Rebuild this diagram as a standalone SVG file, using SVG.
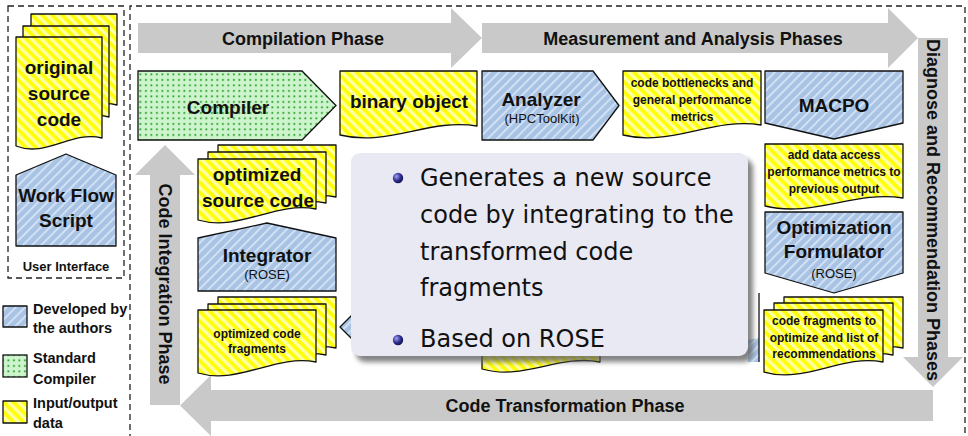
<svg xmlns="http://www.w3.org/2000/svg" width="968" height="436" viewBox="0 0 968 436">
<style>
.t{font-family:"Liberation Sans",Arial,sans-serif;font-weight:bold;fill:#111;text-anchor:middle}
.big{font-size:19px}
.sm{font-size:12px}
.sub{font-size:13px;font-weight:normal}
.ph{font-size:18px}
.leg{font-size:14.5px;text-anchor:start}
.ui{font-size:13px}
.pop{font-family:"DejaVu Sans",sans-serif;font-size:24px;fill:#111}
.y{fill:url(#pY);stroke:#111;stroke-width:1.3;stroke-linejoin:round}
.b{fill:url(#pB);stroke:#111;stroke-width:1.3;stroke-linejoin:round}
.g{fill:url(#pG);stroke:#111;stroke-width:1.3}
.arr{fill:#c9c9c9}
.dash{fill:none;stroke:#222;stroke-width:1.3;stroke-dasharray:6 4}
</style>
<defs>
<pattern id="pY" width="7" height="7" patternUnits="userSpaceOnUse" patternTransform="rotate(-45)">
<rect width="7" height="7" fill="#ffff00"/><rect width="3.4" height="7" fill="#ffffa6"/>
</pattern>
<pattern id="pB" width="6.5" height="6.5" patternUnits="userSpaceOnUse" patternTransform="rotate(45)">
<rect width="6.5" height="6.5" fill="#a8c3e4"/><rect width="2" height="6.5" fill="#d2e1f3"/>
</pattern>
<pattern id="pG" width="5.5" height="5.5" patternUnits="userSpaceOnUse">
<rect width="5.5" height="5.5" fill="#cdf4cd"/><rect x="2" y="2" width="1.8" height="1.8" fill="#25a125"/>
</pattern>
<radialGradient id="ball" cx="0.35" cy="0.35" r="0.7">
<stop offset="0" stop-color="#a0a0ee"/><stop offset="0.6" stop-color="#2c2c90"/><stop offset="1" stop-color="#12124e"/>
</radialGradient>
<filter id="blur" x="-10%" y="-10%" width="120%" height="120%"><feGaussianBlur stdDeviation="2.5"/></filter>
</defs>
<rect width="968" height="436" fill="#fff"/>

<g id="frames">
<rect class="dash" x="8" y="6" width="116" height="272"/>
<path class="dash" d="M130,440 V6 H965 V440"/>
</g>

<g id="connectors">
<polygon class="arr" points="138,23 451,23 451,8 482,38 451,68 451,53 138,53"/>
<polygon class="arr" points="482,23 888,23 888,8 918,38 888,68 888,53 482,53"/>
<polygon class="arr" points="918,38 948,38 948,357 963,357 933,387 903,357 918,357"/>
<polygon class="arr" points="933,390 933,421 211,421 211,436 180,405.5 211,375 211,390"/>
<polygon class="arr" points="150,405 180,405 180,175 195,175 165,145 135,175 150,175"/>
<text class="t ph" x="303" y="44.5">Compilation Phase</text>
<text class="t ph" x="693" y="44.5">Measurement and Analysis Phases</text>
<text class="t ph" x="565" y="412">Code Transformation Phase</text>
<text class="t ph" transform="translate(165,284) rotate(90)" y="6.5">Code Integration Phase</text>
<text class="t ph" transform="translate(933,210) rotate(90)" y="6.5">Diagnose and Recommendation Phases</text>
</g>

<g id="original-source-code">
<path class="y" d="M31,14 H117 V105 C87,97 61,126 31,114 Z"/>
<path class="y" d="M23,26 H109 V117 C79,109 53,138 23,126 Z"/>
<path class="y" d="M16,37 H102 V138 C72,130 46,158 16,146 Z"/>
<text class="t big" x="59" y="74">original</text>
<text class="t big" x="59" y="100">source</text>
<text class="t big" x="59" y="126">code</text>
</g>

<g id="work-flow-script">
<polygon class="b" points="16,175 66,154 116,175 116,246 16,246"/>
<text class="t big" x="66" y="202">Work Flow</text>
<text class="t big" x="66" y="227">Script</text>
</g>
<text class="t ui" x="66" y="271">User Interface</text>

<g id="legend">
<rect class="b" x="3" y="306" width="24" height="21"/>
<text class="t leg" x="33" y="314">Developed by</text>
<text class="t leg" x="33" y="333">the authors</text>
<rect class="g" x="3" y="355" width="24" height="22"/>
<text class="t leg" x="33" y="363">Standard</text>
<text class="t leg" x="33" y="384">Compiler</text>
<rect class="y" x="3" y="401" width="24" height="22"/>
<text class="t leg" x="33" y="408">Input/output</text>
<text class="t leg" x="33" y="428">data</text>
</g>

<g id="compiler">
<polygon class="g" points="138,71 302,71 336,105.5 302,140 138,140"/>
<text class="t big" x="228" y="114">Compiler</text>
</g>

<g id="binary-object">
<path class="y" d="M340,71 H477 V126 C429,118 388,147 340,135 Z"/>
<text class="t big" x="409" y="108">binary object</text>
</g>

<g id="analyzer">
<polygon class="b" points="482,71 593,71 619,105.5 593,140 482,140"/>
<text class="t big" x="541" y="106">Analyzer</text>
<text class="t sub" x="542" y="123">(HPCToolKit)</text>
</g>

<g id="code-bottlenecks">
<path class="y" d="M623,71 H761 V125 C713,117 671,147 623,135 Z"/>
<text class="t sm" x="692" y="87">code bottlenecks and</text>
<text class="t sm" x="692" y="104">general performance</text>
<text class="t sm" x="692" y="120.5">metrics</text>
</g>

<g id="macpo">
<polygon class="b" points="765,71 903,71 903,123 834,139 765,123"/>
<text class="t big" x="834" y="112">MACPO</text>
</g>

<g id="data-access-metrics">
<path class="y" d="M765,144 H903 V198 C855,190 813,218 765,206 Z"/>
<text class="t sm" x="834" y="159">add data access</text>
<text class="t sm" x="834" y="176">performance metrics to</text>
<text class="t sm" x="834" y="193">previous output</text>
</g>

<g id="optimization-formulator">
<polygon class="b" points="765,212 903,212 903,273 834,293 765,273"/>
<text class="t big" x="834" y="234">Optimization</text>
<text class="t big" x="834" y="258">Formulator</text>
<text class="t sub" x="834" y="278">(ROSE)</text>
</g>

<g id="code-fragments-recommendations">
<path class="y" d="M784,297 H903 V348 C861,340 826,370 784,358 Z"/>
<path class="y" d="M774,303 H893 V355 C851,347 816,377 774,365 Z"/>
<path class="y" d="M764,310 H883 V362 C841,354 806,384 764,372 Z"/>
<text class="t sm" x="824" y="325">code fragments to</text>
<text class="t sm" x="824" y="342">optimize and list of</text>
<text class="t sm" x="824" y="358">recommendations</text>
</g>

<g id="optimized-source-code">
<path class="y" d="M218,145 H336 V197 C295,189 259,219 218,207 Z"/>
<path class="y" d="M208,152 H326 V203 C285,195 249,225 208,213 Z"/>
<path class="y" d="M198,159 H316 V209 C275,201 239,232 198,220 Z"/>
<text class="t big" x="257" y="181">optimized</text>
<text class="t big" x="258" y="207">source code</text>
</g>

<g id="integrator">
<polygon class="b" points="198,238 267,223 336,238 336,291 198,291"/>
<text class="t big" x="267" y="262">Integrator</text>
<text class="t sub" x="267" y="279">(ROSE)</text>
</g>

<g id="optimized-code-fragments">
<path class="y" d="M218,297 H336 V348 C295,340 259,370 218,358 Z"/>
<path class="y" d="M208,304 H326 V355 C285,347 249,377 208,365 Z"/>
<path class="y" d="M198,310 H316 V362 C275,354 239,385 198,373 Z"/>
<text class="t sm" x="257" y="338">optimized code</text>
<text class="t sm" x="257" y="353">fragments</text>
</g>

<g id="transformation-nodes-hidden">
<polygon class="b" points="340,327 367,300 470,300 470,354 367,354"/>
<path class="y" d="M482,300 H600 V362 C559,354 523,381 482,369 Z"/>
<polygon fill="url(#pB)" points="748,340 759,338 759,362 748,362"/>
<line x1="759" y1="293" x2="759" y2="362" stroke="#111" stroke-width="1.3"/>
</g>

<g id="popup">
<rect x="356" y="159" width="397" height="203" rx="9" fill="#5a5a5a" opacity="0.75" filter="url(#blur)"/>
<rect x="351" y="153" width="397" height="203" rx="9" fill="#e9e9f3"/>
<circle cx="398" cy="178" r="5.2" fill="url(#ball)"/>
<text class="pop" x="420" y="186">Generates a new source</text>
<text class="pop" x="420" y="223">code by integrating to the</text>
<text class="pop" x="420" y="260">transformed code</text>
<text class="pop" x="420" y="296">fragments</text>
<circle cx="398" cy="340" r="5.2" fill="url(#ball)"/>
<text class="pop" x="420" y="347">Based on ROSE</text>
</g>
</svg>
